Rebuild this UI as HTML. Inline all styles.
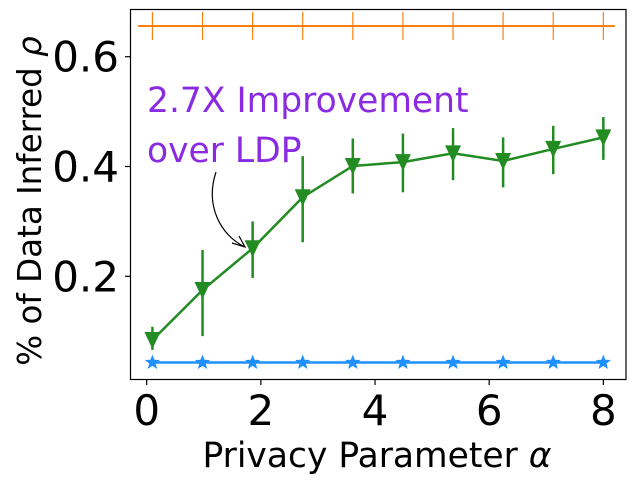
<!DOCTYPE html>
<html><head><meta charset="utf-8"><style>
body{margin:0;background:#fff}
svg{display:block;font-family:"DejaVu Sans","Liberation Sans",sans-serif}
</style></head><body>
<svg id="chart" width="635" height="484" viewBox="0 0 635 484">
<rect x="0" y="0" width="635" height="484" fill="#fff"/>
<g id="marks"></g>
<rect x="130.5" y="9.5" width="495.5" height="370" fill="none" stroke="#000" stroke-width="1.2"/>
<g id="axes"></g>
<text x="147" y="112" font-size="34.5" fill="#8a2be2">2.7X Improvement</text>
<text x="147" y="162" font-size="34.5" fill="#8a2be2">over LDP</text>
<path d="M216,172 C205,205 220,235 245,247" fill="none" stroke="#000" stroke-width="1.2"/>
<path d="M232,243 L245,247 L239,236" fill="none" stroke="#000" stroke-width="1.2"/>
<text transform="translate(41,201) rotate(-90)" text-anchor="middle" font-size="32.5">% of Data Inferred <tspan font-style="italic">ρ</tspan></text>
<text x="377" y="467" text-anchor="middle" font-size="34.5">Privacy Parameter <tspan font-style="italic">α</tspan></text>
</svg>
<script>
const alphas=[0.1,0.978,1.856,2.733,3.611,4.489,5.367,6.244,7.122,8.0];
const oursVals=[0.084,0.175,0.251,0.344,0.401,0.408,0.424,0.41,0.432,0.453];
const oursHi=[0.108,0.248,0.3,0.419,0.451,0.46,0.47,0.453,0.474,0.49];
const oursLo=[0.066,0.091,0.197,0.262,0.351,0.353,0.375,0.362,0.386,0.412];
const ldpVals=[0.043,0.043,0.043,0.043,0.043,0.043,0.043,0.043,0.043,0.043];
const upperVals=[0.656,0.656,0.656,0.656,0.656,0.656,0.656,0.656,0.656,0.656];
const xTicks=[0,2,4,6,8];
const yTicks=[0.2,0.4,0.6];
const yTickLabels=["0.2","0.4","0.6"];

const X=v=>146.7+v*57.08;
const Y=v=>386.1-v*549;
const NS="http://www.w3.org/2000/svg";
const marks=document.getElementById('marks'),axes=document.getElementById('axes');
function mk(tag,attrs,parent){const e=document.createElementNS(NS,tag);for(const k in attrs)e.setAttribute(k,attrs[k]);parent.appendChild(e);return e;}

let ol=mk('line',{x1:X(-0.15),x2:X(8.2),y1:Y(upperVals[0]),y2:Y(upperVals[upperVals.length-1]),stroke:'#ff7f0e','stroke-width':2},marks);


alphas.forEach((a,i)=>{const m=mk('line',{x1:X(a),x2:X(a),y1:Y(upperVals[i])-14,y2:Y(upperVals[i])+14,stroke:'#ff7f0e','stroke-width':1.2},marks);

});

let bp=mk('polyline',{points:alphas.map((a,i)=>X(a)+','+Y(ldpVals[i])).join(' '),fill:'none',stroke:'#1e90ff','stroke-width':2.5},marks);


function star(cx,cy,r){let p=[];for(let k=0;k<10;k++){const rr=k%2?r*0.42:r;const t=-Math.PI/2+k*Math.PI/5;p.push((cx+rr*Math.cos(t)).toFixed(1)+','+(cy+rr*Math.sin(t)).toFixed(1));}return p.join(' ');}
alphas.forEach((a,i)=>{const s=mk('polygon',{points:star(X(a),Y(ldpVals[i]),8),fill:'#1e90ff'},marks);

});

alphas.forEach((a,i)=>{const e=mk('line',{x1:X(a),x2:X(a),y1:Y(oursHi[i]),y2:Y(oursLo[i]),stroke:'#228b22','stroke-width':2.5},marks);

});
let gp=mk('polyline',{points:alphas.map((a,i)=>X(a)+','+Y(oursVals[i])).join(' '),fill:'none',stroke:'#228b22','stroke-width':2.5},marks);


alphas.forEach((a,i)=>{const x=X(a),y=Y(oursVals[i]);const t=mk('polygon',{points:`${x-8},${y-8} ${x+8},${y-8} ${x},${y+9}`,fill:'#228b22'},marks);

});

xTicks.forEach(v=>{mk('line',{x1:X(v),x2:X(v),y1:379.5,y2:385,stroke:'#000','stroke-width':1.2},axes);
const t=mk('text',{x:X(v),y:425,'text-anchor':'middle','font-size':42},axes);t.textContent=v;

});
yTicks.forEach((v,i)=>{mk('line',{x1:125,x2:130.5,y1:Y(v),y2:Y(v),stroke:'#000','stroke-width':1.2},axes);
const t=mk('text',{x:119,y:Y(v)+15,'text-anchor':'end','font-size':42},axes);t.textContent=yTickLabels[i];

});
</script>
</body></html>
